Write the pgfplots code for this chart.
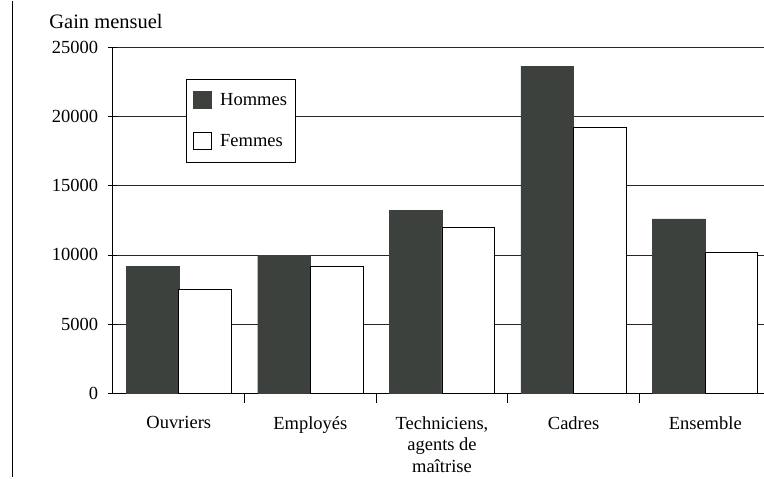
\documentclass[border=0pt]{standalone}
\usepackage{pgfplots}
\pgfplotsset{compat=1.18}
\usepackage{fontspec}
\setmainfont{Liberation Serif}
\definecolor{dark}{HTML}{3C413E}
\begin{document}
\fontsize{18.5}{21.5}\selectfont
\begin{tikzpicture}
\begin{axis}[
  scale only axis, width=651pt, height=346pt,
  xmin=-0.5, xmax=4.443, ymin=0, ymax=25000,
  clip=false,
  axis x line*=bottom, axis y line*=left,
  axis line style={black, line width=0.9pt, -},
  ytick={0,5000,10000,15000,20000,25000},
  scaled ticks=false,
  /pgf/number format/.cd, set thousands separator={}, assume math mode=true, /pgfplots/.cd,
  ymajorgrids, grid style={black!85, line width=0.7pt},
  xtick={0,1,2,3,4},
  xticklabels={Ouvriers, Employés, {Techniciens,\\agents de\\maîtrise}, Cadres, Ensemble},
  xticklabel style={align=center, font=\fontsize{18.5}{21.5}\selectfont, yshift=-8pt},
  yticklabel style={font=\fontsize{18.5}{21.5}\selectfont, xshift=-4pt},
  major x tick style={draw=none},
  minor xtick={0.5,1.5,2.5,3.5},
  tick align=center,
  major tick length=9pt, minor tick length=10pt,
  tick style={black, line width=0.8pt},
  ybar, bar width=0.4,
  legend style={at={(rel axis cs:0.112,0.910)}, anchor=north west, draw=black, line width=0.9pt,
    font=\fontsize{18.5}{21.5}\selectfont, row sep=22pt, inner xsep=7pt, inner ysep=12pt,
    legend cell align=left},
  legend image code/.code={\draw[#1, line width=0.9pt] (0pt,-8pt) rectangle (18pt,9pt); \path (24pt,0pt);},
]
\addplot[fill=dark, draw=dark, bar shift=-0.2] coordinates {(0,9150) (1,9950) (2,13200) (3,23650) (4,12600)};
\addlegendentry{Hommes}
\addplot[fill=white, draw=black, line width=1pt, bar shift=0.2] coordinates {(0,7500) (1,9200) (2,12000) (3,19200) (4,10200)};
\addlegendentry{Femmes}
\node[anchor=west, font=\fontsize{20.5}{23}\selectfont] at (rel axis cs:-0.1075,1.075) {Gain mensuel};
\draw[black, line width=1pt] (rel axis cs:-0.155,1.1358) -- (rel axis cs:-0.155,-0.2428);
\path (rel axis cs:-0.1736,1.1358) rectangle (rel axis cs:1,-0.2428);
\end{axis}
\end{tikzpicture}
\end{document}
